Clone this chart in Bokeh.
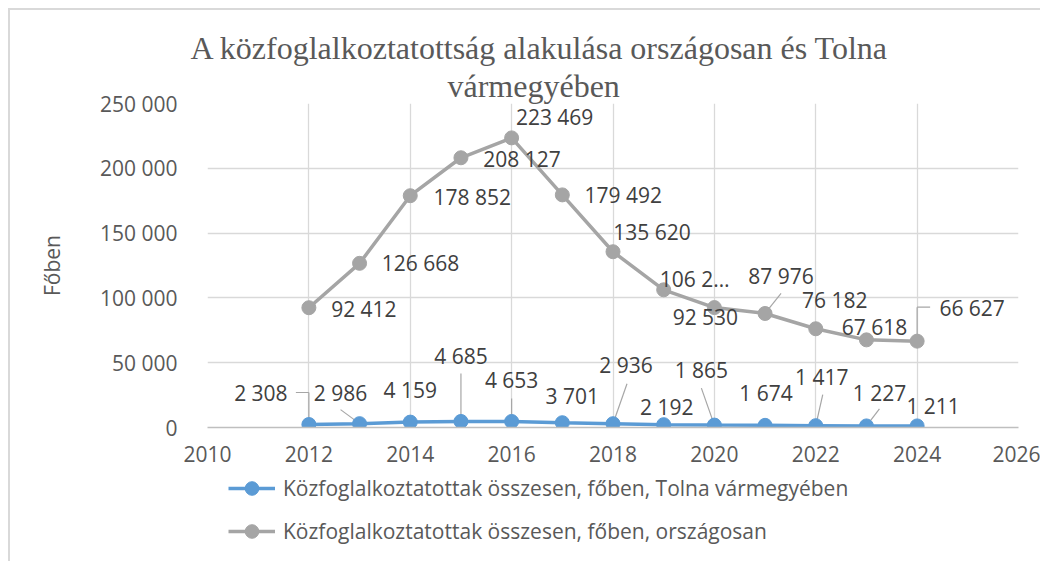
from bokeh.plotting import figure
from bokeh.layouts import column
from bokeh.models import (ColumnDataSource, Range1d, FixedTicker, Title, Legend, LegendItem)
from bokeh.core.properties import value
from bokeh.embed import file_html
from bokeh.resources import INLINE

# ---- data ----
YEARS = [2012, 2013, 2014, 2015, 2016, 2017, 2018, 2019, 2020, 2021, 2022, 2023, 2024]
TOLNA = [2308, 2986, 4159, 4685, 4653, 3701, 2936, 2192, 1865, 1674, 1417, 1227, 1211]
NATIONAL = [92412, 126668, 178852, 208127, 223469, 179492, 135620, 106245, 92530, 87976, 76182, 67618, 66627]
SERIES_NAMES = ["Közfoglalkoztatottak összesen, főben, Tolna vármegyében",
                "Közfoglalkoztatottak összesen, főben, országosan"]
TITLE_LINES = ["A közfoglalkoztatottság alakulása országosan és Tolna", "vármegyében"]
Y_LABEL = "Főben"
X_TICKS = [2010, 2012, 2014, 2016, 2018, 2020, 2022, 2024, 2026]
Y_TICKS = [0, 50000, 100000, 150000, 200000, 250000]
Y_TICK_LABELS = ["0", "50 000", "100 000", "150 000", "200 000", "250 000"]

def fmt(v):
    return f"{v:,}".replace(",", " ")

TOLNA_TEXT = [fmt(v) for v in TOLNA]
NAT_TEXT = [fmt(v) for v in NATIONAL]
NAT_TEXT[7] = "106 2…"  # truncated in the original chart

# ---- label placement (pixels, relative to the point) ----
NAT_DX = [55, 61, 62, 61, 43, 61, 39, 31, -9, 16, 19, 8, 55]
NAT_DY = [1, 0, 1, 1, -21, 0, -20, -11, 9, -37, -29, -13, -33]
TOL_DX = [-48, -19, 0, 0, 0, 10, 13, 3, -13, 1, 6, 13, 16]
TOL_DY = [-32, -31, -32, -65, -41, -27, -59, -18, -55, -32, -49, -33, -20]

BLUE = "#5B9BD5"
GRAY = "#A5A5A5"
TXT = "#404040"
AX = "#595959"
FONT = "Open Sans"
FS = "21px"
BORDER = "2px solid #D9D9D9"

W, H = 1030, 462
ML, MR, MT, MB = 197, 22, 93, 45
FW, FH = W - ML - MR, H - MT - MB
X0, X1, Y0, Y1 = 2010, 2026, 0, 250000
PXX = FW / (X1 - X0)
PXY = FH / (Y1 - Y0)

p = figure(width=W, height=H, output_backend="svg", toolbar_location=None,
           x_range=Range1d(X0, X1), y_range=Range1d(Y0, Y1),
           min_border_left=ML, min_border_right=MR, min_border_top=MT, min_border_bottom=MB)
p.outline_line_color = None
p.background_fill_color = "white"
p.border_fill_color = "white"

p.xaxis.ticker = FixedTicker(ticks=X_TICKS)
p.yaxis.ticker = FixedTicker(ticks=Y_TICKS)
p.yaxis.major_label_overrides = {t: l for t, l in zip(Y_TICKS, Y_TICK_LABELS)}
for ax in (p.xaxis[0], p.yaxis[0]):
    ax.major_tick_line_color = None
    ax.minor_tick_line_color = None
    ax.major_label_text_font = FONT
    ax.major_label_text_font_size = FS
    ax.major_label_text_color = AX
p.xaxis.axis_line_color = "#BFBFBF"
p.xaxis.axis_line_width = 1.3
p.yaxis.axis_line_color = None
p.xaxis.major_label_standoff = 12
p.yaxis.major_label_standoff = 24
p.yaxis.axis_label = Y_LABEL
p.yaxis.axis_label_text_font = FONT
p.yaxis.axis_label_text_font_style = "normal"
p.yaxis.axis_label_text_font_size = FS
p.yaxis.axis_label_text_color = AX
p.yaxis.axis_label_standoff = 31
p.xgrid.grid_line_color = "#D9D9D9"
p.ygrid.grid_line_color = "#D9D9D9"
p.xgrid.grid_line_width = 1.3
p.ygrid.grid_line_width = 1.3
p.xgrid.bounds = (X0 - 1, X1 + 1)
p.ygrid.bounds = (Y0 - 1, Y1 + 1)

# ---- leader lines (pixel offsets converted to data units) ----
def seg(xs, ys, dxa, dya, dxb, dyb):
    return dict(x0=[x + a / PXX for x, a in zip(xs, dxa)], y0=[y - b / PXY for y, b in zip(ys, dya)],
                x1=[x + a / PXX for x, a in zip(xs, dxb)], y1=[y - b / PXY for y, b in zip(ys, dyb)])

tl_idx = [0, 1, 3, 4, 6, 8, 10, 11]
tl_b = {0: (0, -32), 1: (-19, -14), 3: (0, -48), 4: (0, -23), 6: (14, -40), 8: (-13, -37), 10: (7, -31), 11: (13, -17)}
s1 = seg([YEARS[i] for i in tl_idx], [TOLNA[i] for i in tl_idx],
         [0] * len(tl_idx), [0] * len(tl_idx),
         [tl_b[i][0] for i in tl_idx], [tl_b[i][1] for i in tl_idx])
s2 = seg([YEARS[0]], [TOLNA[0]], [0], [-32], [-13], [-32])
s3 = seg([YEARS[9], YEARS[12], YEARS[12]], [NATIONAL[9], NATIONAL[12], NATIONAL[12]],
         [0, 0, 0], [0, 0, -34], [16, 0, 13], [-20, -34, -34])
for s in (s1, s2, s3):
    p.segment(x0="x0", y0="y0", x1="x1", y1="y1", source=ColumnDataSource(s),
              line_color="#A6A6A6", line_width=1.2)

# ---- series ----
src_t = ColumnDataSource(dict(x=YEARS, y=TOLNA, t=TOLNA_TEXT, dx=TOL_DX, dy=TOL_DY))
src_n = ColumnDataSource(dict(x=YEARS, y=NATIONAL, t=NAT_TEXT, dx=NAT_DX, dy=NAT_DY))

p.line("x", "y", source=src_t, line_color=BLUE, line_width=3.5)
p.scatter("x", "y", source=src_t, size=14, fill_color=BLUE, line_color=BLUE)
p.line("x", "y", source=src_n, line_color=GRAY, line_width=3.5)
p.scatter("x", "y", source=src_n, size=14, fill_color=GRAY, line_color=GRAY)

for src in (src_t, src_n):
    p.text("x", "y", text="t", source=src, x_offset="dx", y_offset="dy",
           text_align="center", text_baseline="middle", text_font=value(FONT),
           text_font_size=FS, text_color=TXT)

# ---- title (two lines, nearest to the frame first) ----
p.title = None
p.add_layout(Title(text=TITLE_LINES[1], align="left", offset=240, standoff=0,
                   text_font="Liberation Serif", text_font_size="32px",
                   text_font_style="normal", text_color=AX), "above")
p.add_layout(Title(text=TITLE_LINES[0], align="left", offset=-17, standoff=0,
                   text_font="Liberation Serif", text_font_size="32px",
                   text_font_style="normal", text_color=AX), "above")

# ---- legend (own strip below the chart; its frame is aligned with the chart's) ----
LH = 89
q = figure(width=W, height=LH, output_backend="svg", toolbar_location=None,
           x_range=Range1d(0, 1), y_range=Range1d(0, 1),
           min_border_left=0, min_border_right=0, min_border_top=0, min_border_bottom=0)
q.axis.visible = False
q.grid.visible = False
q.outline_line_color = None
# same series, outside this strip's visible range: only their legend swatches show
lt = q.line("x", "y", source=src_t, line_color=BLUE, line_width=3.5)
ct = q.scatter("x", "y", source=src_t, size=14, fill_color=BLUE, line_color=BLUE)
lnn = q.line("x", "y", source=src_n, line_color=GRAY, line_width=3.5)
cn = q.scatter("x", "y", source=src_n, size=14, fill_color=GRAY, line_color=GRAY)
legend = Legend(items=[LegendItem(label=SERIES_NAMES[0], renderers=[lt, ct]),
                       LegendItem(label=SERIES_NAMES[1], renderers=[lnn, cn])],
                location=(21, 13), orientation="vertical",
                glyph_width=47, glyph_height=34, label_height=20, label_standoff=8,
                spacing=9, padding=0, margin=0, border_line_color=None,
                background_fill_alpha=0, label_text_font=FONT, label_text_font_size=FS,
                label_text_color=AX)
q.add_layout(legend, "center")

layout = column(p, q, spacing=0)
layout.styles = {"margin-left": "8px", "margin-top": "8px",
                 "border-left": BORDER, "border-top": BORDER}

open("out.html", "w").write(file_html(layout, INLINE))
